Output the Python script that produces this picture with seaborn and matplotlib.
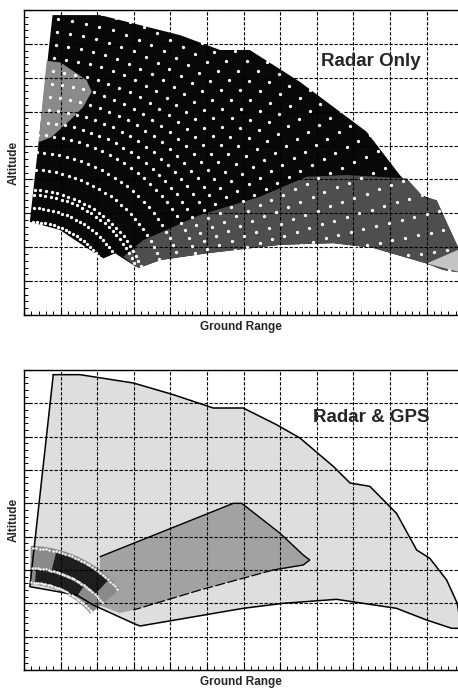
import numpy as np
import pandas as pd
import matplotlib
matplotlib.use("Agg")
import matplotlib.pyplot as plt
from matplotlib.path import Path
from matplotlib.ticker import MultipleLocator, NullFormatter
import seaborn as sns

# ---------------- data ----------------
# upper panel "Radar Only" : outer coverage (black), lower band (dark gray)
top_outer_x = [0.78, 2.08, 4.26, 5.36, 6.17, 7.54, 9.36, 10.27, 10.73, 11.23, 11.95, 11.95,
               11.45, 11.0, 9.54, 8.45, 7.0, 4.99, 3.72, 3.12, 2.49, 2.17, 1.80, 0.98, 0.16]
top_outer_y = [8.85, 8.85, 8.26, 7.82, 7.82, 6.88, 5.41, 4.13, 3.59, 3.39, 1.80, 1.25,
               1.33, 1.52, 1.98, 2.12, 2.07, 1.82, 1.62, 1.38, 1.82, 1.67, 1.92, 2.51, 2.75]
top_gray_x = [2.71, 3.26, 4.81, 6.45, 7.72, 8.82, 10.46, 10.91, 11.28, 11.95, 11.95,
              11.45, 11.0, 9.54, 8.45, 7.0, 4.99, 3.72, 3.12]
top_gray_y = [1.72, 2.21, 2.95, 3.49, 4.08, 4.13, 4.03, 3.49, 3.39, 1.80, 1.25,
              1.33, 1.52, 1.98, 2.12, 2.07, 1.82, 1.62, 1.38]
top_patch_x = [0.62, 1.00, 1.71, 1.85, 1.62, 1.26, 0.75, 0.40]
top_patch_y = [7.50, 7.45, 6.93, 6.59, 6.14, 5.75, 5.25, 5.10]
top_tri_x = [11.0, 11.86, 11.86]
top_tri_y = [1.52, 1.92, 1.28]

# radar sample points: range rings (ground-range units) x elevation angles (deg)
radar_origin = (0.1, 0.1)
range_rings = [2.46, 2.84, 3.20, 3.33, 3.88, 4.37, 4.84, 5.19, 5.55, 5.90, 6.26, 6.61,
               6.97, 7.32, 7.68, 8.03, 8.39, 8.74, 9.10, 9.45, 9.81, 10.16, 10.52,
               10.87, 11.23, 11.58, 11.94]
elevations = [3.0, 5.7, 8.4, 11.1, 13.8, 16.5, 19.2, 21.9, 24.6, 27.3, 30.0, 32.7, 35.4,
              38.1, 40.8, 43.5, 46.2, 48.9, 51.6, 54.3, 57.0, 59.7, 62.4, 65.1, 67.8,
              70.5, 73.2, 75.9, 78.6, 81.3, 84.0, 86.7]

# lower panel "Radar & GPS"
bot_outer_x = [0.80, 1.53, 2.99, 4.08, 5.17, 5.99, 6.90, 7.54, 8.45, 8.91, 9.45, 10.18,
               10.73, 11.09, 11.55, 11.84, 11.95, 11.95, 11.69, 11.0, 10.18, 8.54, 7.08,
               5.99, 3.17, 2.99, 1.99, 1.89, 1.44, 0.16]
bot_outer_y = [8.86, 8.86, 8.61, 8.26, 7.86, 7.86, 7.36, 6.96, 6.11, 5.61, 5.51, 4.70,
               3.60, 3.35, 2.70, 2.00, 1.25, 1.25, 1.25, 1.50, 1.85, 2.12, 2.00, 1.85,
               1.32, 1.40, 1.90, 1.95, 2.25, 2.50]
bot_mid_x = [2.08, 3.90, 5.72, 5.95, 7.00, 7.63, 7.81, 7.63, 6.81, 4.81, 2.99, 2.62, 2.05]
bot_mid_y = [3.40, 4.20, 5.00, 5.00, 4.10, 3.45, 3.30, 3.15, 3.00, 2.40, 1.80, 1.71, 1.95]
# near-field band (ring sector) : inner/outer radius and angle span
band_r = [2.24, 3.30]
band_ang = [40.0, 88.5]
dark_bands_r = [(2.73, 3.20), (2.32, 2.65)]
dark_bands_ang = [(47.0, 76.0), (55.0, 85.0)]
band_dot_r = [2.30, 2.70, 3.24]

# ---------------- style ----------------
sns.set_style("white")
plt.rcParams['font.family'] = ['Liberation Sans', 'DejaVu Sans']

fig = plt.figure(figsize=(4.58, 6.88), dpi=100)
ax_top = fig.add_axes([24 / 458, 1 - 315 / 688, 434 / 458, 305 / 688])
ax_bot = fig.add_axes([24 / 458, 1 - 670 / 688, 434 / 458, 300 / 688])


def style_axes(ax):
    ax.set_xlim(0, 11.86)
    ax.set_ylim(0, 9)
    ax.xaxis.set_major_locator(MultipleLocator(1))
    ax.xaxis.set_minor_locator(MultipleLocator(0.2))
    ax.yaxis.set_major_locator(MultipleLocator(1))
    ax.yaxis.set_minor_locator(MultipleLocator(0.2))
    ax.xaxis.set_major_formatter(NullFormatter())
    ax.yaxis.set_major_formatter(NullFormatter())
    ax.tick_params(which='major', direction='in', length=5, width=0.8, color='black',
                   bottom=True, left=True, top=False, right=False)
    ax.tick_params(which='minor', direction='in', length=3, width=0.7, color='black',
                   bottom=True, left=True, top=False, right=False)
    ax.grid(True, which='major', color='black', linestyle=(0, (3, 1.5)), linewidth=0.8)
    ax.set_axisbelow(False)
    for side in ['left', 'bottom', 'top']:
        ax.spines[side].set_color('black')
        ax.spines[side].set_linewidth(1.0)
    ax.spines['right'].set_visible(False)
    ax.set_xlabel('Ground Range', fontsize=8.5, fontweight='bold', labelpad=0.5)
    ax.set_ylabel('Altitude', fontsize=8.5, fontweight='bold', labelpad=-0.5)


def sector(cx, cy, r0, r1, a0, a1, aspect):
    t = np.radians(np.linspace(a0, a1, 80))
    xs = np.concatenate([cx + r1 * np.cos(t), cx + r0 * np.cos(t[::-1])])
    ys = np.concatenate([cy + r1 * np.sin(t) * aspect, cy + r0 * np.sin(t[::-1]) * aspect])
    return xs, ys


# ---------------- upper panel ----------------
ax = ax_top
ax.fill(top_outer_x, top_outer_y, color='#080808', lw=0, zorder=1)
ax.fill(top_gray_x, top_gray_y, color='#4e4e4e', lw=0, zorder=1.2)
ax.fill(top_patch_x, top_patch_y, color='#8a8a8a', lw=0, zorder=1.2)
ax.fill(top_tri_x, top_tri_y, color='#c4c4c4', lw=0, zorder=1.3)

aspect_top = 36.6 / 33.9
rr, ee = np.meshgrid(range_rings, np.radians(elevations))
pts = pd.DataFrame({
    'x': (radar_origin[0] + rr * np.cos(ee)).ravel(),
    'y': (radar_origin[1] + rr * np.sin(ee) * aspect_top).ravel(),
})
inside = Path(np.column_stack([top_outer_x, top_outer_y])).contains_points(
    pts[['x', 'y']].values, radius=-0.12)
pts = pts[inside]
sns.scatterplot(data=pts, x='x', y='y', ax=ax, color='white', s=5.5, linewidth=0,
                legend=False, zorder=3)
ax.text(0.80, 0.83, 'Radar Only', transform=ax.transAxes, ha='center', va='center',
        fontsize=13.5, fontweight='bold', zorder=4)
style_axes(ax)

# ---------------- lower panel ----------------
ax = ax_bot
aspect_bot = 36.6 / 33.3
ax.fill(bot_outer_x, bot_outer_y, color='#dedede', lw=0, zorder=1)
ax.plot(bot_outer_x + bot_outer_x[:1], bot_outer_y + bot_outer_y[:1], color='black',
        lw=1.1, zorder=2.5)
ax.fill(bot_mid_x, bot_mid_y, color='#a2a2a2', lw=0, zorder=1.2)
ax.plot(bot_mid_x[:9], bot_mid_y[:9], color='black', lw=1.0, zorder=2.5)
ax.plot(bot_mid_x[8:11], bot_mid_y[8:11], color='black', lw=0.9, ls=(0, (8, 2)), zorder=2.5)

bx, by = sector(radar_origin[0], radar_origin[1], band_r[0], band_r[1],
                band_ang[0], band_ang[1], aspect_bot)
ax.fill(bx, by, color='#8a8a8a', lw=0, zorder=1.4)
for (r0, r1), (a0, a1) in zip(dark_bands_r, dark_bands_ang):
    dx, dy = sector(radar_origin[0], radar_origin[1], r0, r1, a0, a1, aspect_bot)
    ax.fill(dx, dy, color='#1e1e1e', lw=0, zorder=1.5)

band_elev = np.radians(np.arange(band_ang[0] + 1, band_ang[1], 1.6))
br, be = np.meshgrid(band_dot_r, band_elev)
band_pts = pd.DataFrame({
    'x': (radar_origin[0] + br * np.cos(be)).ravel(),
    'y': (radar_origin[1] + br * np.sin(be) * aspect_bot).ravel(),
})
sns.scatterplot(data=band_pts, x='x', y='y', ax=ax, color='white', s=3, linewidth=0,
                legend=False, zorder=3)
ax.text(0.80, 0.84, 'Radar & GPS', transform=ax.transAxes, ha='center', va='center',
        fontsize=13.5, fontweight='bold', zorder=4)
style_axes(ax)

fig.savefig('out.png', dpi=100)
